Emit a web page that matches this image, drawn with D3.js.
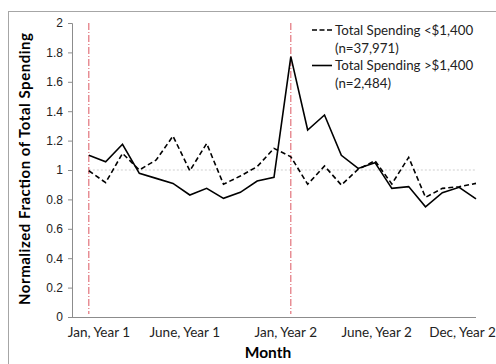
<!DOCTYPE html>
<html>
<head>
<meta charset="utf-8">
<script src="https://cdn.jsdelivr.net/npm/d3@7"></script>
<style>
  html, body { margin: 0; padding: 0; background: #fff; }
  svg { display: block; font-family: Lato, "Open Sans", sans-serif; }
</style>
</head>
<body>
<svg id="chart" width="496" height="364"></svg>
<script>
// Month index: 1 = Jan, Year 1 ... 24 = Dec, Year 2
const months = d3.range(1, 25);

// Normalized fraction of total spending per month
const lowSpending = [0.995, 0.914, 1.113, 1.0, 1.068, 1.231, 0.995, 1.18, 0.903, 0.959, 1.023, 1.147,
                     1.09, 0.903, 1.027, 0.898, 1.005, 1.063, 0.905, 1.086, 0.814, 0.875, 0.886, 0.909];
const highSpending = [1.10, 1.056, 1.175, 0.977, 0.943, 0.909, 0.83, 0.875, 0.807, 0.848, 0.925, 0.95,
                      1.771, 1.272, 1.374, 1.10, 1.011, 1.05, 0.875, 0.887, 0.75, 0.846, 0.882, 0.803];

const seriesNames = ["Total Spending <$1,400", "Total Spending >$1,400"];
const seriesCounts = ["(n=37,971)", "(n=2,484)"];

const xTickLabels = ["Jan, Year 1", "June, Year 1", "Jan, Year 2", "June, Year 2", "Dec, Year 2"];
const xTickMonths = [1.6, 6.7, 12.7, 18.1, 23.2];
const yTicks = [0, 0.2, 0.4, 0.6, 0.8, 1, 1.2, 1.4, 1.6, 1.8, 2];
const markerMonths = [1, 13];   // January of each year
const baseline = 1;

const svg = d3.select("#chart");

const x = d3.scaleLinear().domain([0, 24]).range([72, 476]);
const y = d3.scaleLinear().domain([0, 2]).range([317, 23]);

// Outer chart frame
svg.append("rect")
  .attr("x", 8.5).attr("y", 11.5)
  .attr("width", 520).attr("height", 400)
  .attr("fill", "none").attr("stroke", "#a6a6a6").attr("stroke-width", 1);

// Y axis
const yAxis = svg.append("g")
  .attr("transform", `translate(${x(0)},0)`)
  .call(d3.axisLeft(y).tickValues(yTicks).tickSize(4).tickPadding(5)
        .tickFormat(d => String(+d.toFixed(1))));
yAxis.select(".domain").attr("stroke", "#8c8c8c");
yAxis.selectAll(".tick line").attr("stroke", "#8c8c8c");
yAxis.selectAll(".tick text").attr("fill", "#222").style("font-size", "12px");

// X axis line
svg.append("line")
  .attr("x1", x(0)).attr("x2", x(24))
  .attr("y1", y(0) + 0.5).attr("y2", y(0) + 0.5)
  .attr("stroke", "#8c8c8c");

// X tick labels
svg.append("g").selectAll("text")
  .data(xTickLabels)
  .join("text")
  .attr("x", (d, i) => x(xTickMonths[i]))
  .attr("y", y(0) + 19.5)
  .attr("text-anchor", "middle")
  .attr("fill", "#222")
  .style("font-size", "13.5px")
  .text(d => d);

// Reference line at 1
svg.append("line")
  .attr("x1", x(months[0])).attr("x2", x(months[months.length - 1]))
  .attr("y1", y(baseline)).attr("y2", y(baseline))
  .attr("stroke", "#d0d0d0").attr("stroke-width", 1.2)
  .attr("stroke-dasharray", "2,2");

// January markers
svg.append("g").selectAll("line")
  .data(markerMonths)
  .join("line")
  .attr("x1", d => x(d)).attr("x2", d => x(d))
  .attr("y1", y(2)).attr("y2", y(0) - 3)
  .attr("stroke", "#dc5560").attr("stroke-width", 1)
  .attr("stroke-dasharray", "7,2,1,2");

// Series lines
const line = d3.line().x((d, i) => x(months[i])).y(d => y(d));

svg.append("path")
  .datum(lowSpending)
  .attr("d", line)
  .attr("fill", "none").attr("stroke", "#000").attr("stroke-width", 1.6)
  .attr("stroke-dasharray", "5,3");

svg.append("path")
  .datum(highSpending)
  .attr("d", line)
  .attr("fill", "none").attr("stroke", "#000").attr("stroke-width", 1.6);

// Legend
const legend = svg.append("g").attr("transform", "translate(312,30)");
const dashes = ["5,2.5", null];
seriesNames.forEach((name, i) => {
  const g = legend.append("g").attr("transform", `translate(0,${i * 35.5})`);
  g.append("line")
    .attr("x1", 0).attr("x2", 20).attr("y1", 0).attr("y2", 0)
    .attr("stroke", "#000").attr("stroke-width", 1.6)
    .attr("stroke-dasharray", dashes[i]);
  g.append("text")
    .attr("x", 23).attr("y", 4.5)
    .attr("fill", "#222").style("font-size", "13.3px")
    .text(name);
  g.append("text")
    .attr("x", 23).attr("y", 22.5)
    .attr("fill", "#222").style("font-size", "13.3px")
    .text(seriesCounts[i]);
});

// Axis titles
svg.append("text")
  .attr("transform", `translate(30,${(y(0) + y(2)) / 2 - 1}) rotate(-90)`)
  .attr("text-anchor", "middle")
  .attr("textLength", 272).attr("lengthAdjust", "spacing")
  .style("font-size", "15px").style("font-weight", "bold")
  .attr("fill", "#000")
  .text("Normalized Fraction of Total Spending");

svg.append("text")
  .attr("x", 268).attr("y", 358)
  .attr("text-anchor", "middle")
  .style("font-size", "15.5px").style("font-weight", "bold")
  .attr("fill", "#000")
  .text("Month");
</script>
</body>
</html>
